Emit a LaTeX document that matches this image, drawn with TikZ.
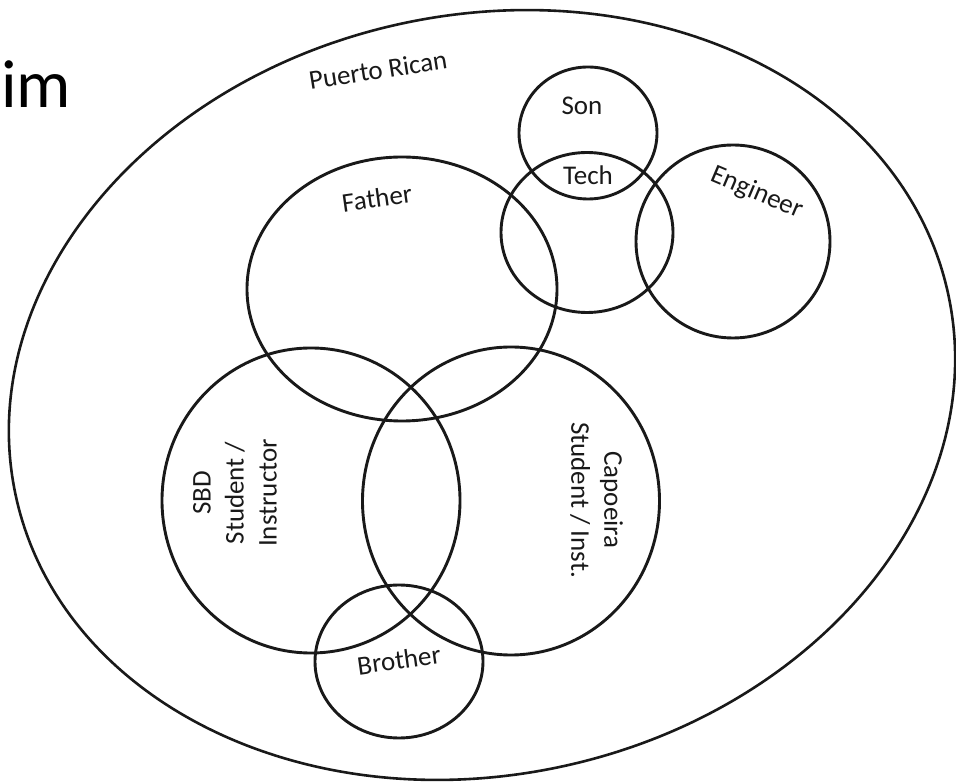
\documentclass[tikz,border=0pt]{standalone}
\usepackage{fontspec}
\setmainfont{Carlito}
\begin{document}
\begin{tikzpicture}[x=1pt,y=1pt,
  ring/.style={draw=black!90, line width=2.9pt},
  lbl/.style={font=\fontsize{27}{33}\selectfont, inner sep=0pt, align=center, text=black!90}]
\useasboundingbox (0,0) rectangle (956,782);
\fill[white] (0,0) rectangle (956,782);

% title fragment
\node[font=\fontsize{68}{80}\selectfont, anchor=base west, inner sep=0pt] (title) at (1,674) {im};

% outer set
\draw[ring, line width=2.6pt] (482,387) ellipse [x radius=477, y radius=380, rotate=12.2];
\node[lbl, rotate=9] (pr) at (378,712) {Puerto Rican};

% sets
\draw[ring] (402,493) ellipse [x radius=155, y radius=132];   % Father
\draw[ring] (588,649) ellipse [x radius=69, y radius=66];     % Son
\draw[ring] (587,549.5) ellipse [x radius=86, y radius=80];   % Tech
\draw[ring] (733,540.5) ellipse [x radius=97, y radius=96.5]; % Engineer
\draw[ring] (311,281.5) ellipse [x radius=149, y radius=152.5]; % SBD
\draw[ring] (511,281) ellipse [x radius=148.5, y radius=154];  % Capoeira
\draw[ring] (399,120.5) ellipse [x radius=84, y radius=76.5];  % Brother

% labels
\node[lbl] (son) at (582,676) {Son};
\node[lbl] (tech) at (588,607) {Tech};
\node[lbl, rotate=8] (father) at (377,584) {Father};
\node[lbl, rotate=-23] (eng) at (757,589) {Engineer};
\node[lbl, rotate=8] (bro) at (399,122) {Brother};
\node[lbl, rotate=90] (sbd) at (235,289) {SBD\\Student /\\Instructor};
\node[lbl, rotate=-90] (cap) at (596.5,282) {Capoeira\\Student / Inst.};
\end{tikzpicture}
\end{document}
